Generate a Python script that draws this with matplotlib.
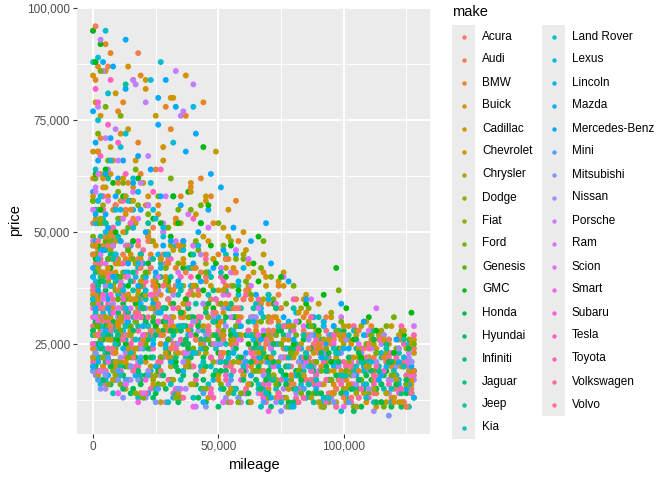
import numpy as np
import matplotlib
matplotlib.use("Agg")
import matplotlib.pyplot as plt
from matplotlib.patches import Rectangle
from matplotlib.ticker import FuncFormatter, MultipleLocator

plt.rcParams['font.family'] = ['Liberation Sans', 'DejaVu Sans']

makes = ['Acura', 'Audi', 'BMW', 'Buick', 'Cadillac', 'Chevrolet', 'Chrysler', 'Dodge', 'Fiat', 'Ford',
         'Genesis', 'GMC', 'Honda', 'Hyundai', 'Infiniti', 'Jaguar', 'Jeep', 'Kia', 'Land Rover', 'Lexus',
         'Lincoln', 'Mazda', 'Mercedes-Benz', 'Mini', 'Mitsubishi', 'Nissan', 'Porsche', 'Ram', 'Scion',
         'Smart', 'Subaru', 'Tesla', 'Toyota', 'Volkswagen', 'Volvo']

# listings: "mileage price" pairs, both in thousands
acura = ("1 38, 3 44, 5 33, 7 41, 9 29, 12 36, 14 46, 17 31, 20 39, 23 27, 26 34, 29 42, 32 25, 35 31, 39 37, "
         "42 23, 46 29, 50 34, 54 21, 58 27, 63 31, 68 19, 73 25, 79 22, 85 17, 91 24, 97 15, 104 20, 112 14, 121 18, "
         "2 27, 4 35, 6 47, 8 24, 10 32, 13 40, 16 22, 18 44, 21 30, 24 36, 27 19, 30 28, 33 38, 37 21, 41 30, "
         "45 40, 52 26, 60 35, 70 28, 88 21, "
         "57 33, 64 23, 71 30, 78 16, 84 28, 90 14, 96 26, 103 13, 110 25, 117 21, 124 12, 128 24")
audi = ("0 52, 2 46, 4 58, 6 39, 8 49, 11 43, 13 55, 15 35, 18 47, 21 40, 24 51, 27 33, 30 44, 33 38, 36 48, "
        "40 30, 43 41, 47 35, 51 27, 55 38, 59 31, 63 24, 67 34, 72 28, 77 22, 82 30, 87 19, 92 26, 98 21, "
        "103 16, 108 24, 114 18, 119 13, 124 21, 127 15, 1 96, 6 87, 18 90, "
        "1 33, 3 41, 5 49, 7 29, 9 56, 10 37, 12 45, 14 27, 16 53, 17 32, 19 42, 22 48, 23 28, 25 37, 28 45, "
        "31 24, 34 33, 37 41, 41 26, 45 45, 49 32, 57 41, 65 29, 75 33, 95 25, "
        "53 44, 61 37, 69 25, 74 36, 80 16, 86 24, 93 31, 100 13, 106 28, 112 22, 118 26, 125 11")
bmw = ("0 62, 1 84, 2 55, 3 71, 4 47, 5 92, 6 58, 8 66, 9 43, 11 53, 12 79, 14 61, 16 48, 18 70, 19 38, "
       "21 56, 23 45, 25 64, 27 36, 29 51, 31 73, 33 42, 35 58, 38 33, 40 47, 43 62, 45 39, 48 52, 51 30, "
       "54 44, 57 57, 60 35, 64 27, 68 41, 72 31, 76 24, 81 35, 86 27, 91 20, 96 29, 101 17, 107 23, 113 14, "
       "119 20, 125 16, 2 87, 7 90, 16 84, 19 85, 29 78, 37 76, 44 79, 10 77, "
       "0 45, 1 36, 2 68, 3 30, 4 60, 5 41, 7 50, 8 33, 10 61, 11 27, 13 44, 15 55, 17 35, 19 63, 20 29, "
       "22 49, 24 39, 26 56, 28 27, 30 43, 33 53, 36 31, 39 60, 42 36, 46 28, 50 45, 56 33, 62 40, 70 34, 84 31, "
       "32 37, 34 47, 41 42, 47 58, 53 38, "
       "52 23, 58 48, 63 35, 71 22, 74 38, 79 18, 85 32, 90 25, 95 14, 100 27, 106 19, 111 29, 116 22, 123 26, 128 19")
buick = ("1 31, 3 36, 5 27, 7 40, 9 23, 12 33, 15 28, 18 37, 21 21, 24 30, 27 25, 31 34, 34 19, 38 28, 42 23, "
         "46 31, 50 17, 55 25, 60 21, 65 28, 70 15, 75 22, 81 18, 87 24, 93 13, 99 19, 106 15, 113 21, 120 12, 127 17, "
         "0 24, 2 38, 4 20, 6 33, 10 29, 13 21, 17 35, 20 26, 25 38, 30 22, 36 32, 44 19, 52 27, 63 20, 78 26, "
         "53 34, 62 16, 68 24, 73 31, 84 13, 90 28, 96 16, 103 25, 109 12, 116 26, 124 22")
cadillac = ("0 68, 2 57, 3 76, 5 49, 7 63, 9 41, 11 72, 13 54, 15 45, 17 66, 20 38, 22 58, 25 47, 28 69, 30 35, "
            "33 52, 36 43, 39 61, 42 31, 46 48, 50 37, 54 55, 58 29, 62 43, 66 34, 71 26, 76 38, 81 23, 87 31, "
            "93 19, 99 26, 106 17, 113 24, 120 15, 126 20, 0 85, 14 87, 21 82, 32 80, 37 85, "
            "1 47, 2 35, 4 62, 6 42, 8 55, 10 30, 12 50, 14 36, 16 60, 19 44, 23 33, 26 54, 29 40, 32 29, 35 47, "
            "40 38, 45 57, 52 32, 60 50, 74 30, "
            "56 42, 64 21, 69 40, 78 29, 84 35, 90 24, 96 14, 102 29, 109 20, 116 27, 123 12, 128 26")
chevrolet = ("0 24, 0 58, 1 35, 1 79, 2 45, 2 18, 3 63, 3 29, 4 52, 5 22, 5 86, 6 40, 7 31, 7 69, 8 17, 9 48, "
             "10 26, 11 57, 12 37, 13 15, 14 73, 15 44, 16 23, 17 52, 18 33, 19 14, 20 61, 22 41, 23 20, 24 48, "
             "26 30, 27 12, 28 66, 30 38, 31 22, 33 53, 34 14, 36 44, 38 27, 39 59, 41 18, 42 36, 44 49, 46 13, "
             "48 32, 49 68, 51 22, 53 42, 55 15, 57 35, 59 27, 61 46, 63 12, 65 30, 67 19, 69 38, 71 24, 73 13, "
             "75 33, 77 20, 79 29, 81 12, 83 25, 85 36, 87 17, 89 28, 91 11, 93 21, 95 31, 97 15, 99 24, 101 12, "
             "103 19, 105 27, 108 14, 110 22, 113 11, 115 18, 118 25, 120 13, 123 20, 125 11, 127 16, 128 23, "
             "21 84, 31 80, 25 76, 9 81, "
             "0 36, 0 47, 1 27, 1 53, 2 31, 3 41, 3 19, 4 33, 5 60, 6 26, 6 49, 8 38, 9 21, 10 43, 11 30, 12 62, "
             "14 24, 15 35, 16 57, 17 18, 19 39, 21 27, 22 50, 24 16, 25 35, 27 44, 29 23, 32 31, 35 52, 37 20, "
             "40 42, 43 25, 45 58, 47 38, 50 29, 54 49, 58 21, 62 37, 68 45, 76 41, "
             "72 17, 80 22, 86 30, 92 16, 98 27, 104 22, 111 26, 117 14, 122 27, 126 19, "
             "32 46, 36 34, 41 54, 44 29, 48 44, 52 51, 34 23, "
             "52 37, 56 26, 60 18, 64 41, 66 23, 70 31, 74 39, 76 26, 78 15, 82 32, 84 18, 88 23, 90 34, 94 26, "
             "96 19, 100 29, 102 16, 106 24, 109 30, 112 17, 114 27, 117 22, 119 29, 121 17, 124 28, 127 25")
chrysler = ("1 29, 4 24, 6 33, 9 20, 12 27, 15 22, 19 31, 23 18, 27 25, 31 20, 35 28, 40 16, 45 23, 50 18, "
            "55 26, 61 14, 67 21, 73 17, 80 24, 87 13, 94 19, 101 15, 109 21, 117 12, 125 17, "
            "0 22, 3 35, 7 26, 11 31, 17 24, 21 36, 29 29, 38 21, 48 30, 65 26, "
            "58 31, 64 19, 70 27, 77 13, 83 20, 90 27, 97 22, 105 11, 112 25, 120 21, 127 26")
dodge = ("0 35, 1 47, 3 28, 4 56, 6 39, 8 24, 10 44, 12 31, 14 20, 16 51, 18 36, 21 26, 23 42, 25 18, 28 33, "
         "31 47, 33 23, 36 38, 39 16, 42 29, 45 43, 48 21, 51 34, 54 14, 58 27, 62 38, 66 19, 70 30, 74 14, "
         "78 24, 83 33, 88 17, 92 26, 97 12, 102 21, 107 29, 112 15, 117 23, 122 12, 127 19, "
         "0 25, 2 42, 3 53, 5 31, 7 46, 9 19, 11 37, 13 58, 15 27, 17 43, 20 33, 22 50, 26 28, 29 39, 32 17, "
         "35 46, 40 36, 46 31, 53 44, 64 27, "
         "56 21, 60 45, 68 35, 72 18, 80 29, 86 21, 90 12, 95 32, 100 25, 105 14, 110 20, 115 28, 120 18, 125 24")
fiat = "2 19, 6 16, 11 21, 17 14, 24 17, 33 13, 45 15, 58 12, 74 14, 92 11, 4 22, 9 18, 14 20, 28 16"
ford = ("0 27, 0 49, 1 62, 1 38, 2 21, 2 72, 3 43, 4 31, 4 55, 5 18, 6 66, 7 36, 8 47, 9 24, 10 59, 11 16, "
        "12 41, 13 29, 14 51, 15 20, 17 64, 18 35, 19 45, 20 13, 22 54, 23 27, 25 39, 26 16, 28 50, 29 31, "
        "31 62, 32 21, 34 43, 35 13, 37 35, 39 55, 40 24, 42 46, 44 15, 45 33, 47 40, 49 19, 50 52, 52 28, "
        "54 12, 56 38, 58 22, 60 44, 62 16, 64 31, 66 25, 68 48, 70 13, 72 35, 74 21, 76 29, 78 11, 80 38, "
        "82 19, 84 27, 86 33, 88 14, 90 25, 92 30, 94 12, 96 21, 98 37, 100 15, 102 26, 104 11, 106 22, "
        "108 30, 110 14, 112 19, 114 27, 116 11, 118 23, 120 31, 122 15, 124 20, 126 26, 128 13, "
        "3 86, 5 78, 11 76, "
        "0 34, 0 57, 1 45, 1 23, 2 31, 3 52, 3 26, 4 40, 5 63, 6 29, 7 48, 8 19, 9 37, 10 53, 11 28, 12 61, "
        "13 35, 14 22, 16 44, 17 30, 18 56, 20 40, 21 25, 23 48, 24 33, 26 58, 27 22, 29 42, 30 51, 33 28, "
        "36 47, 38 20, 41 38, 43 56, 46 26, 48 44, 51 34, 55 48, 61 39, 67 42, "
        "73 27, 79 17, 85 23, 91 19, 97 28, 103 18, 109 25, 115 16, 121 24, 127 21, "
        "31 37, 34 55, 38 31, 41 48, 45 41, 48 27, 52 47, 57 44, "
        "51 16, 53 44, 57 29, 59 14, 63 36, 65 19, 67 30, 69 22, 71 40, 73 16, 75 25, 77 34, 79 23, 81 27, "
        "83 14, 87 29, 89 21, 93 24, 95 17, 99 30, 101 19, 105 28, 107 17, 111 27, 113 23, 117 29, 119 18, "
        "123 28, 125 16, 128 25")
genesis = "1 42, 3 36, 5 48, 8 33, 11 40, 15 29, 19 38, 24 31, 30 26, 37 34, 45 24, 55 28, 2 29, 6 44, 10 35, 14 46, 21 41"
gmc = ("0 57, 1 44, 2 68, 3 36, 5 52, 6 29, 8 61, 10 40, 11 48, 13 25, 15 57, 17 34, 19 45, 21 22, 24 53, "
       "26 38, 28 30, 31 49, 33 21, 36 42, 38 59, 41 27, 44 37, 47 47, 50 23, 53 40, 56 31, 60 19, 64 43, "
       "68 27, 72 34, 77 18, 82 30, 87 24, 92 36, 98 17, 104 26, 110 31, 117 19, 124 27, "
       "0 95, 3 92, 1 88, 44 69, 97 42, "
       "0 37, 1 63, 2 47, 3 55, 4 31, 5 64, 7 42, 9 50, 10 26, 12 58, 14 38, 16 48, 18 62, 20 33, 22 43, "
       "25 29, 27 52, 30 39, 32 58, 35 32, 39 45, 43 52, 48 33, 55 47, 66 39, "
       "34 52, 37 35, 42 40, 46 56, 49 43, "
       "58 37, 62 25, 66 49, 70 22, 75 40, 80 25, 85 34, 90 28, 95 21, 101 33, 107 22, 113 28, 120 23, 127 32")
honda = ("0 28, 1 22, 2 33, 3 19, 4 26, 5 37, 6 23, 8 30, 9 17, 10 25, 12 34, 13 20, 15 28, 16 15, 18 24, "
         "20 31, 21 18, 23 27, 25 14, 27 22, 29 33, 31 17, 33 25, 35 13, 37 29, 39 20, 41 16, 43 26, 45 12, "
         "47 22, 49 30, 52 15, 54 23, 56 19, 58 12, 61 27, 63 16, 66 21, 68 13, 71 25, 73 17, 76 22, 78 12, "
         "81 19, 84 26, 86 14, 89 21, 92 11, 95 17, 98 24, 101 13, 104 19, 107 11, 110 22, 113 15, 116 18, "
         "119 11, 122 24, 125 14, 128 19, "
         "0 20, 0 35, 1 30, 2 25, 3 39, 4 17, 5 29, 6 33, 7 20, 8 38, 9 26, 11 31, 12 18, 14 36, 15 23, "
         "17 30, 19 16, 20 36, 22 24, 24 30, 26 19, 28 28, 30 23, 32 34, 34 19, 36 25, 40 31, 44 22, 50 26, 57 31, "
         "70 19, 75 28, 80 15, 87 24, 93 20, 99 14, 105 26, 111 17, 117 22, 124 20, "
         "31 28, 35 32, 38 24, 42 29, 46 34, 48 18, 53 31, "
         "51 19, 55 27, 59 22, 62 14, 65 25, 69 17, 72 21, 74 28, 77 16, 79 23, 83 17, 85 22, 88 29, 91 14, "
         "94 23, 97 18, 100 28, 103 15, 106 23, 109 18, 112 26, 115 12, 118 21, 121 16, 126 24")
hyundai = ("0 22, 1 27, 2 18, 4 31, 5 21, 7 16, 9 25, 11 19, 13 29, 15 14, 17 22, 19 17, 22 26, 24 13, 26 20, "
           "29 15, 31 24, 34 12, 36 18, 39 22, 42 13, 44 17, 47 25, 50 11, 53 19, 56 15, 59 21, 62 12, 65 17, "
           "68 23, 71 11, 74 16, 77 20, 80 12, 84 15, 88 19, 92 11, 96 14, 100 18, 104 10, 108 15, 113 12, "
           "118 17, 123 11, 127 14, "
           "0 28, 1 20, 3 24, 4 17, 6 27, 8 21, 10 32, 12 15, 14 24, 16 28, 18 19, 21 30, 23 22, 25 27, 28 18, "
           "32 28, 38 25, 45 20, 54 23, 66 20, 70 14, 79 24, 86 22, 94 17, 102 22, 111 19, 121 21, "
           "33 20, 37 26, 41 18, 49 27, "
           "52 15, 57 24, 60 17, 63 21, 67 15, 72 25, 75 19, 82 18, 89 14, 91 23, 98 21, 106 17, 115 16, 119 21, 125 17")
infiniti = ("1 41, 3 34, 5 46, 8 29, 11 38, 14 32, 17 43, 21 26, 25 36, 29 30, 33 22, 38 33, 43 26, 48 37, "
            "53 21, 58 29, 64 24, 70 18, 76 27, 83 20, 90 16, 97 23, 105 15, 114 19, 123 14, "
            "0 35, 2 29, 4 39, 7 45, 10 27, 15 39, 20 33, 27 40, 35 28, 45 32, "
            "55 34, 62 30, 67 22, 73 33, 80 24, 86 29, 93 19, 100 27, 108 21, 117 25, 126 20")
jaguar = "1 55, 3 46, 6 62, 9 39, 13 50, 18 35, 24 44, 31 30, 40 38, 52 27, 66 24, 84 19, 13 83, 2 38, 5 52, 8 44, 16 41, 22 52"
jeep = ("0 34, 1 42, 2 27, 3 49, 4 31, 5 23, 7 38, 8 45, 9 28, 11 20, 12 36, 14 41, 15 25, 17 32, 19 18, "
        "20 39, 22 29, 24 35, 26 16, 27 43, 29 24, 31 31, 33 14, 35 37, 37 22, 39 28, 41 34, 43 15, 45 26, "
        "47 40, 49 19, 52 30, 54 23, 56 14, 59 33, 61 21, 63 27, 66 15, 68 31, 71 20, 73 25, 76 13, 79 28, "
        "82 18, 85 23, 88 12, 91 26, 94 17, 97 21, 101 13, 105 24, 109 16, 114 20, 119 12, 125 18, "
        "0 27, 0 45, 1 36, 2 52, 3 40, 4 24, 5 46, 6 33, 7 27, 9 40, 10 49, 11 31, 13 26, 14 47, 16 37, "
        "18 29, 19 45, 21 35, 23 24, 25 40, 28 33, 30 45, 32 27, 34 36, 38 42, 42 30, 46 36, 51 41, 58 38, 65 34, "
        "70 28, 75 19, 81 25, 86 16, 92 22, 98 28, 104 19, 110 25, 116 15, 122 23, "
        "31 40, 35 29, 40 45, 44 21, 48 30, 53 45, "
        "53 37, 57 27, 60 18, 64 33, 67 24, 70 36, 72 17, 74 29, 78 22, 80 33, 84 27, 87 20, 90 31, 93 13, "
        "96 24, 99 18, 102 27, 107 21, 112 28, 117 24, 121 16, 124 26, 127 21")
kia = ("0 19, 1 25, 2 30, 3 16, 5 23, 6 28, 8 14, 10 21, 12 26, 14 17, 16 31, 18 13, 20 24, 23 19, 25 15, "
       "27 27, 30 12, 32 21, 35 17, 37 25, 40 13, 43 20, 46 16, 49 24, 52 12, 55 18, 58 22, 61 14, 64 19, "
       "67 11, 70 21, 73 15, 76 18, 79 11, 83 16, 87 20, 91 12, 95 17, 99 10, 103 15, 108 19, 112 12, "
       "117 14, 122 17, 126 11, "
       "0 25, 1 32, 2 22, 4 27, 5 17, 7 33, 9 25, 11 18, 13 29, 15 23, 17 26, 19 21, 22 29, 24 22, 26 32, "
       "29 24, 33 28, 38 20, 44 28, 51 21, 71 17, 77 24, 85 13, 93 22, 101 18, 110 21, 120 19, "
       "31 16, 36 29, 41 23, 47 20, "
       "53 25, 57 15, 60 20, 63 27, 66 16, 69 14, 72 23, 75 12, 78 20, 81 15, 85 23, 89 17, 94 13, 97 23, "
       "105 20, 109 13, 115 22, 119 15, 124 20")
land_rover = ("0 88, 1 64, 2 75, 4 53, 6 81, 8 47, 11 69, 14 57, 18 42, 23 61, 28 49, 35 38, 43 52, 55 33, 70 27, "
              "5 95, 2 89, 27 88, 13 72, 32 70, 3 58, 7 66, 10 52, 16 62, 24 55")
lexus = ("0 47, 1 39, 3 55, 4 32, 6 44, 8 51, 10 36, 12 28, 14 46, 17 40, 19 33, 22 49, 24 26, 27 42, 30 35, "
         "33 47, 36 29, 39 38, 43 24, 46 41, 50 31, 54 22, 58 36, 62 27, 67 33, 72 21, 77 29, 83 24, 89 18, "
         "95 27, 101 20, 108 16, 115 23, 121 18, 127 14, 23 84, 40 78, "
         "0 35, 2 44, 3 29, 5 50, 7 38, 9 45, 11 55, 13 33, 16 51, 18 43, 21 37, 25 53, 29 45, 34 38, 42 47, "
         "52 37, 56 28, 60 42, 64 30, 70 36, 75 25, 81 32, 86 20, 92 29, 98 23, 104 28, 111 21, 118 26, 124 22")
lincoln = ("1 52, 3 43, 5 36, 8 48, 10 31, 13 41, 16 55, 19 34, 22 27, 26 45, 30 37, 34 29, 39 42, 44 24, "
           "49 35, 55 28, 61 21, 67 32, 74 25, 81 18, 88 27, 96 20, 104 15, 113 23, 122 16, "
           "0 40, 2 57, 4 46, 6 33, 9 55, 12 37, 15 47, 18 59, 21 40, 28 51, 36 46, 46 41, "
           "58 39, 64 26, 70 35, 78 30, 85 22, 92 30, 100 24, 108 27, 117 20, 126 25")
mazda = ("0 27, 2 21, 4 31, 6 18, 8 24, 11 28, 13 16, 16 22, 19 26, 22 14, 25 20, 29 25, 32 13, 36 19, 40 23, "
         "44 12, 48 17, 53 21, 58 13, 63 18, 68 15, 74 20, 80 11, 86 16, 92 13, 98 18, 105 11, 112 15, 119 12, 126 16, "
         "0 20, 1 33, 3 25, 5 28, 7 32, 9 19, 12 24, 14 30, 17 18, 20 29, 24 25, 27 32, 31 21, 38 27, 50 25, "
         "51 15, 56 23, 61 14, 66 22, 71 13, 77 17, 83 22, 89 15, 95 21, 101 14, 108 20, 115 18, 122 21, 128 13")
mercedes = ("0 59, 0 77, 1 48, 2 66, 3 41, 4 88, 5 54, 6 35, 7 71, 9 45, 10 62, 12 38, 13 82, 15 52, 17 30, "
            "18 67, 20 43, 22 56, 24 34, 26 74, 28 47, 30 26, 32 58, 34 39, 37 68, 39 31, 42 50, 45 24, 48 42, "
            "51 60, 54 33, 57 45, 61 23, 65 36, 69 52, 73 27, 78 39, 83 21, 88 31, 93 25, 99 34, 105 18, "
            "111 27, 118 21, 125 15, 13 93, 8 87, 29 84, 33 78, 26 80, 41 72, "
            "0 42, 1 54, 1 70, 2 37, 3 58, 4 46, 5 63, 6 51, 8 40, 9 58, 11 48, 12 66, 14 43, 16 61, 18 38, "
            "19 55, 21 50, 23 64, 25 41, 27 58, 31 48, 35 56, 40 43, 46 55, 56 51, "
            "36 48, 43 39, 47 63, 52 46, "
            "53 38, 59 29, 63 48, 67 26, 71 43, 76 31, 80 26, 85 35, 91 22, 96 29, 102 24, 108 30, 114 17, "
            "121 26, 127 20")
mini = "1 24, 4 20, 8 26, 13 17, 19 22, 26 15, 34 19, 44 14, 55 17, 68 12, 84 15, 102 12, 2 17, 6 22, 10 19, 22 18"
mitsubishi = "0 19, 3 15, 7 21, 12 13, 18 17, 25 12, 34 15, 45 11, 58 13, 75 10, 96 12, 118 9, 1 23, 5 18, 10 17, 15 20"
nissan = ("0 25, 1 31, 1 18, 2 36, 3 22, 4 28, 5 15, 6 33, 8 20, 9 26, 10 14, 12 30, 13 23, 15 17, 16 35, "
          "18 21, 20 27, 21 13, 23 24, 25 32, 27 18, 29 12, 31 26, 33 20, 35 29, 37 15, 39 23, 41 11, 43 19, "
          "45 27, 47 14, 50 21, 52 33, 54 16, 56 24, 59 12, 61 19, 64 26, 66 14, 69 21, 72 17, 74 29, 77 11, "
          "80 18, 83 24, 85 13, 88 20, 91 16, 94 27, 97 11, 100 17, 103 22, 106 13, 109 19, 112 10, 115 25, "
          "118 14, 121 20, 124 12, 128 17, "
          "0 20, 0 34, 1 27, 2 22, 3 31, 4 19, 5 38, 6 24, 7 29, 8 34, 9 18, 10 31, 11 22, 13 27, 14 36, "
          "15 20, 17 30, 19 24, 21 33, 22 19, 24 28, 26 37, 28 22, 31 31, 34 25, 38 34, 42 28, 48 31, 55 28, 63 31, "
          "71 24, 76 15, 82 21, 87 27, 93 19, 99 23, 105 16, 111 24, 117 21, 126 22, "
          "32 36, 36 21, 40 30, 44 34, 49 25, 53 29, "
          "51 25, 53 13, 57 29, 60 22, 62 16, 65 31, 68 18, 70 25, 73 12, 75 22, 78 27, 81 14, 84 20, 86 26, "
          "89 17, 92 23, 95 13, 98 20, 101 26, 104 18, 107 23, 110 15, 113 21, 116 27, 119 17, 122 24, 125 16, 127 21")
porsche = ("0 95, 2 78, 4 86, 6 64, 9 73, 13 58, 17 83, 22 67, 28 52, 35 76, 43 45, 55 41, "
           "3 93, 16 84, 21 79, 33 86, 40 83, 36 77, 1 60, 5 71, 10 66, 19 61")
ram = ("0 48, 1 59, 2 37, 4 52, 5 43, 7 29, 9 56, 11 39, 13 47, 15 33, 18 53, 20 26, 23 44, 25 36, 28 50, "
       "31 30, 34 41, 37 23, 40 47, 44 34, 47 27, 51 42, 55 31, 59 21, 63 38, 68 28, 73 34, 78 22, 84 29, "
       "90 19, 96 26, 103 21, 110 28, 118 17, 126 23, "
       "0 40, 0 55, 1 31, 2 63, 3 45, 4 35, 6 57, 8 47, 10 33, 12 53, 14 40, 16 59, 19 43, 22 56, 26 40, "
       "29 58, 33 48, 38 54, 46 51, 57 46, "
       "52 36, 58 26, 62 44, 66 33, 71 24, 76 40, 81 30, 87 35, 93 24, 99 31, 106 25, 113 33, 122 26, 128 29")
scion = "8 17, 20 14, 35 15, 52 12, 75 13, 100 11, 3 19, 13 16"
smart = "5 16, 18 12, 40 11, 70 10, 10 14"
subaru = ("0 33, 1 27, 3 22, 5 30, 7 36, 9 25, 11 19, 13 31, 16 24, 18 28, 21 17, 24 33, 27 22, 30 26, 33 15, "
          "36 29, 40 20, 43 25, 47 14, 51 22, 55 28, 59 17, 63 23, 68 13, 72 20, 77 24, 82 15, 87 19, 93 12, "
          "98 21, 104 16, 110 13, 116 19, 122 14, 127 18, "
          "0 25, 2 30, 4 36, 6 21, 8 32, 10 27, 12 35, 15 20, 17 31, 20 27, 23 36, 26 30, 32 33, 39 27, 48 32, "
          "53 18, 57 25, 61 20, 66 27, 70 16, 75 22, 80 28, 85 21, 90 16, 96 25, 101 19, 107 24, 113 17, 119 23, 125 21")
tesla = "1 82, 3 67, 6 74, 9 56, 13 63, 18 48, 24 59, 31 44, 40 53, 52 39, 7 84, 2 79, 4 58, 10 70, 15 52, 27 64"
toyota = ("0 31, 0 45, 1 24, 2 38, 2 52, 3 27, 4 41, 5 19, 6 34, 7 47, 8 23, 9 37, 10 29, 11 16, 12 43, "
          "13 32, 15 25, 16 39, 17 20, 19 35, 20 46, 21 27, 23 15, 24 38, 26 30, 27 21, 29 43, 30 26, 32 14, "
          "34 33, 35 40, 37 22, 39 29, 41 17, 42 37, 44 25, 46 31, 48 13, 50 28, 51 40, 53 20, 55 33, 57 15, "
          "59 26, 61 36, 63 18, 65 30, 67 23, 69 12, 71 27, 73 33, 75 17, 77 24, 79 29, 81 13, 83 21, 85 27, "
          "88 16, 90 23, 92 29, 95 14, 97 20, 100 26, 103 12, 106 21, 109 27, 112 16, 116 22, 120 13, "
          "124 25, 128 18, "
          "0 21, 0 38, 1 30, 1 47, 2 19, 2 34, 3 43, 4 24, 4 55, 5 31, 6 40, 6 22, 7 28, 8 51, 9 19, 9 44, "
          "10 33, 11 26, 12 57, 13 22, 14 36, 15 47, 16 28, 17 41, 18 20, 19 31, 21 39, 22 49, 24 24, 25 33, "
          "27 44, 29 31, 31 37, 33 24, 36 48, 38 34, 41 26, 45 44, 49 35, 56 41, "
          "72 21, 78 15, 84 18, 89 26, 94 22, 99 16, 105 28, 111 19, 117 25, 123 15, "
          "31 30, 35 26, 39 40, 43 31, 47 22, 52 37, 55 27, "
          "51 23, 54 36, 56 19, 58 30, 60 14, 62 28, 64 22, 66 35, 68 16, 70 31, 72 25, 74 14, 76 29, 78 20, "
          "80 35, 82 24, 84 13, 86 22, 87 31, 89 18, 91 25, 93 17, 96 27, 98 23, 101 20, 104 29, 107 15, "
          "110 24, 113 20, 115 26, 118 16, 121 22, 123 29, 126 20, 128 27")
volkswagen = ("0 29, 1 23, 3 33, 5 19, 7 26, 9 21, 11 30, 13 16, 16 24, 18 28, 21 14, 24 22, 27 27, 30 17, "
              "33 24, 36 13, 40 20, 43 26, 47 15, 51 22, 55 12, 59 19, 63 24, 67 14, 72 18, 77 22, 82 12, "
              "87 17, 92 21, 97 11, 103 16, 109 20, 115 12, 121 17, 127 14, "
              "0 22, 2 27, 4 31, 6 24, 8 35, 10 19, 12 26, 14 31, 16 19, 19 25, 22 31, 26 21, 31 29, 38 24, 46 28, "
              "53 17, 57 25, 61 15, 65 21, 69 26, 74 13, 79 20, 84 17, 89 24, 94 14, 100 21, 106 13, 112 18, "
              "118 22, 125 18")
volvo = ("1 43, 3 36, 6 30, 9 40, 12 33, 16 26, 20 38, 25 29, 30 35, 36 23, 42 31, 48 25, 55 20, 62 28, "
         "70 22, 79 18, 88 25, 98 17, 109 22, 121 15, "
         "0 37, 2 48, 4 33, 7 44, 11 38, 14 47, 18 32, 23 42, 28 38, 38 36, "
         "58 33, 66 25, 74 29, 84 22, 93 28, 103 20, 114 26, 125 21")

make_points = [acura, audi, bmw, buick, cadillac, chevrolet, chrysler, dodge, fiat, ford, genesis, gmc,
               honda, hyundai, infiniti, jaguar, jeep, kia, land_rover, lexus, lincoln, mazda, mercedes,
               mini, mitsubishi, nissan, porsche, ram, scion, smart, subaru, tesla, toyota, volkswagen, volvo]


def hue_pal(n, c=100, l=65):
    """ggplot2 default discrete palette (hcl colours, CIE-Luv polar -> sRGB)"""
    hues = np.linspace(15, 375, n + 1)[:-1]
    xn, yn, zn = 95.047, 100.0, 108.883
    un = 4 * xn / (xn + 15 * yn + 3 * zn)
    vn = 9 * yn / (xn + 15 * yn + 3 * zn)
    y = yn * ((l + 16) / 116) ** 3
    to_rgb = np.array([[3.2404542, -1.5371385, -0.4985314],
                       [-0.9692660, 1.8760108, 0.0415560],
                       [0.0556434, -0.2040259, 1.0572252]])
    cols = []
    for h in np.deg2rad(hues):
        up = c * np.cos(h) / (13 * l) + un
        vp = c * np.sin(h) / (13 * l) + vn
        x = y * 9 * up / (4 * vp)
        z = y * (12 - 3 * up - 20 * vp) / (4 * vp)
        rgb = to_rgb @ (np.array([x, y, z]) / 100)
        rgb = np.clip(rgb, 0, None)
        rgb = np.where(rgb <= 0.0031308, 12.92 * rgb, 1.055 * rgb ** (1 / 2.4) - 0.055)
        cols.append(np.clip(rgb, 0, 1))
    return cols


colours = hue_pal(len(makes))

# flatten, interleaving the makes so no colour sits on top of all others
xs, ys, cs, order_key = [], [], [], []
for idx, txt in enumerate(make_points):
    pairs = [tok.split() for tok in txt.split(',')]
    n = len(pairs)
    for j, (m, p) in enumerate(pairs):
        xs.append(float(m) * 1000)
        ys.append(float(p) * 1000)
        cs.append(colours[idx])
        order_key.append((j + 0.5) / n + idx * 1e-4)
order = np.argsort(order_key, kind='stable')
xs = np.array(xs)[order]
ys = np.array(ys)[order]
cs = np.array(cs)[order]

W, H = 672, 480
fig = plt.figure(figsize=(W / 100, H / 100), dpi=100)
ax = fig.add_axes([77 / W, 1 - 434 / H, (430 - 77) / W, (434 - 7) / H])
ax.set_facecolor('#EBEBEB')
for s in ax.spines.values():
    s.set_visible(False)

ax.scatter(xs, ys, s=18, c=cs, linewidths=0, zorder=3)

ax.set_xlim(-6400, 134400)
ax.set_ylim(4900, 100300)
ax.xaxis.set_major_locator(MultipleLocator(50000))
ax.xaxis.set_minor_locator(MultipleLocator(25000))
ax.yaxis.set_major_locator(MultipleLocator(25000))
ax.yaxis.set_minor_locator(MultipleLocator(12500))
fmt = FuncFormatter(lambda v, pos: f"{v:,.0f}")
ax.xaxis.set_major_formatter(fmt)
ax.yaxis.set_major_formatter(fmt)
ax.grid(which='major', color='white', linewidth=1.4, zorder=1)
ax.grid(which='minor', color='white', linewidth=0.7, zorder=1)
ax.set_axisbelow(True)
ax.tick_params(which='major', length=2.7, width=0.8, color='#333333', labelcolor='#4D4D4D',
               labelsize=8.45, pad=2.2)
ax.tick_params(which='minor', length=0)

fig.text(253.5 / W, 1 - 465 / H, 'mileage', ha='center', va='center', fontsize=10.56)
fig.text(15 / W, 1 - 220 / H, 'price', ha='center', va='center', rotation=90, fontsize=10.56)

# legend, laid out in pixel coordinates
lax = fig.add_axes([0, 0, 1, 1])
lax.set_xlim(0, W)
lax.set_ylim(H, 0)
lax.axis('off')
lax.text(452, 12, 'make', ha='left', va='center', fontsize=10.56)
n_first = 18
key_top, key_h = 25, 23
for col, (kx, tx, names) in enumerate([(452, 482, makes[:n_first]), (542, 572, makes[n_first:])]):
    lax.add_patch(Rectangle((kx, key_top), 23, key_h * len(names), facecolor='#EBEBEB', edgecolor='none'))
    for i, name in enumerate(names):
        cy = key_top + key_h * (i + 0.5)
        lax.scatter([kx + 11.5], [cy], s=10, color=colours[col * n_first + i], linewidths=0)
        lax.text(tx, cy, name, ha='left', va='center', fontsize=8.45)

fig.savefig('out.png', dpi=100)
